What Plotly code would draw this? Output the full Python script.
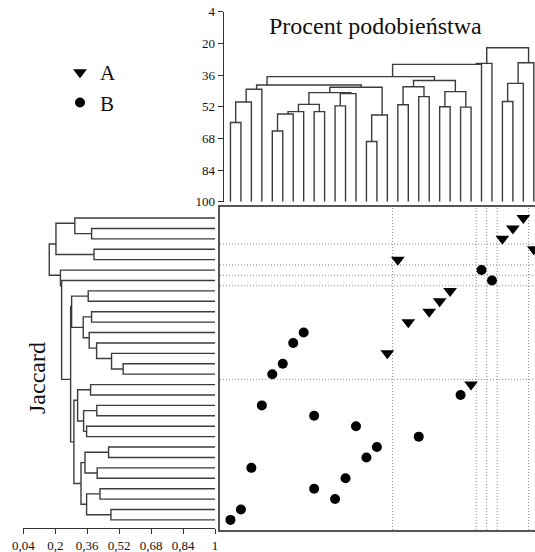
import plotly.graph_objects as go

# ---------------- data ----------------
# Top dendrogram (percent similarity). R-hclust style merge rows:
# negative = leaf (column) number, positive = earlier merge row (1-based)
top_left = [-1, 1, 2, -5, 4, 5, -9, 6, -11, 9, 8, -14, 12, 11, 3,
            -17, -19, 16, -21, -23, 19, 18, 15, 23, 24, -27, 26, 27, 25]
top_right = [-2, -3, -4, -6, -7, -8, -10, 7, -12, -13, 10, -15, -16, 13, 14,
             -18, -20, 17, -22, -24, 20, 21, 22, -25, -26, -28, -29, -30, 28]
top_height = [60.0, 49.6, 43.2, 64.3, 55.7, 54.5, 54.5, 50.8, 51.6, 45.4, 44.9,
              69.6, 56.2, 42.2, 41.0, 51.0, 46.9, 41.9, 52.0, 52.2, 44.4, 38.8,
              36.8, 30.6, 30.1, 49.4, 40.2, 29.8, 22.2]
top_ticks = [4, 20, 36, 52, 68, 84, 100]

# Left dendrogram (Jaccard), rows numbered from the top
left_left = [-2, -1, -4, 2, -8, -10, -15, -14, -13, -12, 6, 5, -17, -19, -21,
             14, 13, -23, -25, 18, -27, -29, 21, 20, 17, 12, -7, -6, 4]
left_right = [-3, 1, -5, 3, -9, -11, -16, 7, 8, 9, 10, 11, -18, -20, -22,
              15, 16, -24, -26, 19, -28, -30, 22, 23, 24, 25, 26, 27, 28]
left_height = [0.382, 0.298, 0.394, 0.2035, 0.365, 0.382, 0.54, 0.482, 0.407,
               0.37, 0.34, 0.282, 0.377, 0.408, 0.357, 0.342, 0.312, 0.467,
               0.41, 0.349, 0.424, 0.479, 0.357, 0.329, 0.2935, 0.277, 0.232,
               0.226, 0.17]
left_ticks = [0.04, 0.2, 0.36, 0.52, 0.68, 0.84, 1]
left_ticktext = ["0,04", "0,2", "0,36", "0,52", "0,68", "0,84", "1"]

# Scatter points: column (top dendrogram leaf) and row (left dendrogram leaf)
a_col = [29, 28, 27, 30, 17, 22, 21, 20, 18, 16, 24]
a_row = [1, 2, 3, 4, 5, 8, 9, 10, 11, 14, 17]
b_col = [25, 26, 8, 7, 6, 5, 4, 23, 9, 13, 19, 15, 14, 3, 12, 9, 11, 2, 1]
b_row = [6, 7, 12, 13, 15, 16, 19, 18, 20, 21, 22, 23, 24, 25, 26, 27, 28, 29, 30]

N_TOP_SPLITS = 5  # number of highest-level splits marked with dotted lines

FONT = "Liberation Serif"
LINE_COL = "#3c3c3c"


def dendro(left, right, height, base):
    """Return segment paths (pos, hgt) and split positions per merge."""
    nodes = []  # (pos, h, lo, hi)
    paths_pos, paths_h, splits = [], [], []

    def info(c):
        if c < 0:
            return (-c, base, -c, -c)
        return nodes[c - 1]

    for a, b, h in zip(left, right, height):
        A, B = info(a), info(b)
        if A[2] > B[2]:
            A, B = B, A
        split = (A[3] + B[2]) / 2.0
        nodes.append((split, h, A[2], B[3]))
        splits.append(split)
        paths_pos += [A[0], A[0], B[0], B[0], None]
        paths_h += [A[1], h, h, B[1], None]
    return paths_pos, paths_h, splits


tp, th, tsplit = dendro(top_left, top_right, top_height, 100)
lp, lh, lsplit = dendro(left_left, left_right, left_height, 1)

top_order = sorted(range(len(top_height)), key=lambda k: top_height[k])[:N_TOP_SPLITS]
left_order = sorted(range(len(left_height)), key=lambda k: left_height[k])[:N_TOP_SPLITS]
vsplits = [tsplit[k] for k in top_order]
hsplits = [lsplit[k] for k in left_order]

W, H = 535, 552
fig = go.Figure()

# top dendrogram
fig.add_trace(go.Scatter(x=tp, y=th, mode="lines", xaxis="x2", yaxis="y2",
                         line=dict(color=LINE_COL, width=1.4), showlegend=False,
                         hoverinfo="skip"))
# left dendrogram
fig.add_trace(go.Scatter(x=lh, y=lp, mode="lines", xaxis="x3", yaxis="y3",
                         line=dict(color=LINE_COL, width=1.4), showlegend=False,
                         hoverinfo="skip"))
# points
fig.add_trace(go.Scatter(x=a_col, y=a_row, mode="markers", name="A",
                         marker=dict(symbol="triangle-down", size=12, color="black")))
fig.add_trace(go.Scatter(x=b_col, y=b_row, mode="markers", name="B",
                         marker=dict(symbol="circle", size=10, color="black")))

shapes = []
for s in vsplits:
    shapes.append(dict(type="line", xref="x", yref="y domain", x0=s, x1=s, y0=0, y1=1,
                       line=dict(color="#8a8a8a", width=1, dash="1px,2px"), layer="below"))
for s in hsplits:
    shapes.append(dict(type="line", xref="x domain", yref="y", x0=0, x1=1, y0=s, y1=s,
                       line=dict(color="#8a8a8a", width=1, dash="1px,2px"), layer="below"))

main_xdom = [220 / W, 1.0]
main_ydom = [1 - 530 / H, 1 - 207 / H]

fig.update_layout(
    width=W, height=H,
    margin=dict(l=0, r=0, t=0, b=0, pad=0, autoexpand=False),
    paper_bgcolor="white", plot_bgcolor="white",
    font=dict(family=FONT, color="#111", size=13),
    shapes=shapes,
    xaxis=dict(domain=main_xdom, range=[0, 315 / 10.46], anchor="y",
               showline=True, mirror=True, linecolor="#555", linewidth=1.5,
               showgrid=False, zeroline=False, showticklabels=False, ticks=""),
    yaxis=dict(domain=main_ydom, range=[30.97, -0.06], anchor="x",
               showline=True, linecolor="#555", linewidth=1.5,
               showgrid=False, zeroline=False, showticklabels=False, ticks=""),
    xaxis2=dict(matches="x", domain=main_xdom, anchor="y2", visible=False),
    yaxis2=dict(domain=[1 - 201.7 / H, 1 - 11.7 / H], range=[100, 4],
                anchor="free", position=222.7 / W,
                showline=True, linecolor="#333", linewidth=1.2,
                ticks="outside", ticklen=5, tickcolor="#333", tickwidth=1.2,
                tickvals=top_ticks, showgrid=False, zeroline=False,
                tickfont=dict(family=FONT, size=13)),
    xaxis3=dict(domain=[23.3 / W, 215 / W], range=[0.04, 1],
                anchor="free", position=1 - 528.3 / H,
                showline=True, linecolor="#333", linewidth=1.2,
                ticks="outside", ticklen=5, tickcolor="#333", tickwidth=1.2,
                tickvals=left_ticks, ticktext=left_ticktext,
                showgrid=False, zeroline=False,
                tickfont=dict(family=FONT, size=13)),
    yaxis3=dict(matches="y", domain=main_ydom, anchor="x3", visible=False),
    legend=dict(x=60 / W, y=1 - 52 / H, xanchor="left", yanchor="top",
                font=dict(family=FONT, size=21, color="#111"),
                bgcolor="rgba(0,0,0,0)", tracegroupgap=0),
    annotations=[
        dict(text="Procent podobieństwa", xref="paper", yref="paper",
             x=375 / W, y=1 - 26 / H, xanchor="center", yanchor="middle",
             showarrow=False, font=dict(family=FONT, size=24, color="#111")),
        dict(text="Jaccard", xref="paper", yref="paper",
             x=37 / W, y=1 - 378 / H, xanchor="center", yanchor="middle",
             textangle=-90, showarrow=False,
             font=dict(family=FONT, size=24, color="#111")),
    ],
)

fig.write_html("out.html",
               config={"displayModeBar": False},
               post_script="document.body.style.margin='0';"
                           "document.body.style.overflow='hidden';")
